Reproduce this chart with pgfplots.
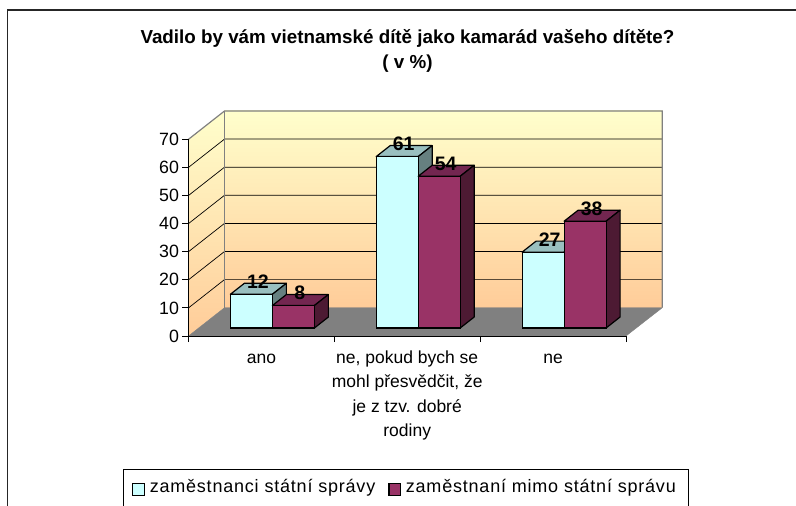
\documentclass[border=0pt]{standalone}
\usepackage{fontspec}
\setmainfont{Liberation Sans}
\newfontfamily\legfont[LetterSpace=4.4]{Liberation Sans}
\usepackage{pgfplots}
\pgfplotsset{compat=1.18}
\definecolor{cy}{HTML}{CCFFFF}
\definecolor{cyt}{HTML}{99BFBF}
\definecolor{cys}{HTML}{668080}
\definecolor{ma}{HTML}{993366}
\definecolor{mat}{HTML}{732650}
\definecolor{mas}{HTML}{4D1A33}
\definecolor{wallt}{HTML}{FFFFCC}
\definecolor{wallb}{HTML}{FFCC99}
\definecolor{flo}{HTML}{808080}
% one bar's top and side faces: category centre, series shift, value, colours
\newcommand\barfaces[5]{%
  \pgfmathsetmacro\xa{#1+#2}\pgfmathsetmacro\xb{\xa+42}%
  \pgfmathsetmacro\xc{\xa+14}\pgfmathsetmacro\xd{\xb+14}\pgfmathsetmacro\vt{#3+3.91}%
  \addplot[forget plot,xshift=11pt,yshift=8pt,fill=#4,draw=black,line width=1.2pt,line join=round]
    coordinates {(\xa,#3)(\xb,#3)(\xd,\vt)(\xc,\vt)} --cycle;
  \addplot[forget plot,xshift=11pt,yshift=8pt,fill=#5,draw=black,line width=1.2pt,line join=round]
    coordinates {(\xb,0)(\xb,#3)(\xd,\vt)(\xd,3.91)} --cycle;
}
\newcommand\legswatch[1]{%
  \path[draw=none,fill=none] (11.5pt,-10pt) -- (15pt,-10pt);
  \draw[fill=#1,draw=black,line width=1.2pt] (0pt,-16.5pt) rectangle (11.5pt,-4.5pt);
}
\begin{document}
\begin{tikzpicture}[x=1pt,y=1pt]
\clip (-188.5,-170) rectangle (607.5,336);
\fill[white] (-188.5,-170) rectangle (607.5,336);
\draw[black!85,line width=1.6pt] (-181,-171) -- (-181,326) -- (609,326);
\node[font=\bfseries\fontsize{18.8}{18.8}\selectfont,anchor=center] at (219,297.5) {Vadilo by vám vietnamské dítě jako kamarád vašeho dítěte?};
\node[font=\bfseries\fontsize{18.8}{18.8}\selectfont,anchor=center] at (219,272) {( v \%)};
\draw[black,line width=1pt] (-64.5,-171) -- (-64.5,-134) -- (499.5,-134) -- (499.5,-171);
\begin{axis}[
  scale only axis,width=473.8pt,height=225pt,
  xmin=188.5,xmax=662.3,ymin=0,ymax=80.07,
  clip=false,
  axis line style={draw=none},
  tick style={black,line width=0.8pt},
  major tick length=6pt,
  tick align=outside,
  xtick pos=bottom,ytick pos=left,
  xtick={188.5,334.3,480.2,626},
  xticklabels={},
  extra x ticks={261.4,407.2,553.1},
  extra x tick labels={\vphantom{d}ano,{ne, pokud bych se\\mohl přesvědčit, že\\je z tzv. dobré\\rodiny},\vphantom{d}ne},
  extra x tick style={major tick length=0pt,tick style={draw=none},
    x tick label style={align=center,font=\fontsize{17.5}{24.4}\selectfont,yshift=-11pt}},
  ytick={0,10,...,70},
  y tick label style={font=\fontsize{17.8}{17.8}\selectfont},
  /pgf/number format/assume math mode=true,
  legend style={at={(-64.5pt,-136.5pt)},anchor=north west,draw=none,fill=none,
    legend columns=2,font=\fontsize{18}{18}\selectfont\legfont,
    /tikz/every even column/.append style={column sep=11pt},inner xsep=8pt,inner ysep=5pt,
    legend cell align=left},
]
% walls
\addplot[forget plot,draw=none,top color=wallt,bottom color=wallb] coordinates {(224.5,10.07)(662.3,10.07)(662.3,80.07)(224.5,80.07)} --cycle;
\addplot[forget plot,draw=none,top color=wallt,bottom color=wallb] coordinates {(188.5,0)(224.5,10.07)(224.5,80.07)(188.5,70)} --cycle;
% grid
\addplot[forget plot,black,line width=0.7pt] coordinates {(188.5,10)(224.5,20.07)(662.3,20.07)};
\addplot[forget plot,black,line width=0.7pt] coordinates {(188.5,20)(224.5,30.07)(662.3,30.07)};
\addplot[forget plot,black,line width=0.7pt] coordinates {(188.5,30)(224.5,40.07)(662.3,40.07)};
\addplot[forget plot,black,line width=0.7pt] coordinates {(188.5,40)(224.5,50.07)(662.3,50.07)};
\addplot[forget plot,black,line width=0.7pt] coordinates {(188.5,50)(224.5,60.07)(662.3,60.07)};
\addplot[forget plot,black,line width=0.7pt] coordinates {(188.5,60)(224.5,70.07)(662.3,70.07)};
% wall border
\addplot[forget plot,flo,line width=1.2pt] coordinates {(188.5,70)(224.5,80.07)(662.3,80.07)(662.3,10.07)};
\addplot[forget plot,flo,line width=1.2pt] coordinates {(224.5,80.07)(224.5,10.07)};
% floor
\addplot[forget plot,fill=flo,draw=flo] coordinates {(188.5,0)(626,0)(662.3,10.07)(224.5,10.07)} --cycle;
% axis lines
\addplot[forget plot,black,line width=0.8pt] coordinates {(188.5,70)(188.5,0)(626,0)};
% series 1
\barfaces{261.4}{-42}{12}{cyt}{cys}
\barfaces{407.2}{-42}{61}{cyt}{cys}
\barfaces{553.1}{-42}{27}{cyt}{cys}
\addplot[ybar,bar width=42pt,bar shift=-21pt,xshift=11pt,yshift=8pt,fill=cy,draw=black,line width=1.2pt,
  legend image code/.code={\legswatch{cy}}]
  coordinates {(261.4,12)(407.2,61)(553.1,27)};
\addlegendentry{zaměstnanci státní správy}
% series 2
\barfaces{261.4}{0}{8}{mat}{mas}
\barfaces{407.2}{0}{54}{mat}{mas}
\barfaces{553.1}{0}{38}{mat}{mas}
\addplot[ybar,bar width=42pt,bar shift=21pt,xshift=11pt,yshift=8pt,fill=ma,draw=black,line width=1.2pt,
  legend image code/.code={\legswatch{ma}}]
  coordinates {(261.4,8)(407.2,54)(553.1,38)};
\addlegendentry{zaměstnaní mimo státní správu}
% value labels
\addplot[forget plot,draw=none,mark=none,xshift=-3.5pt,yshift=20.5pt,
  nodes near coords,nodes near coords style={anchor=center,inner sep=0pt,text=black,font=\bfseries\fontsize{19.5}{19.5}\selectfont}]
  coordinates {(261.4,12)(407.2,61)(553.1,27)};
\addplot[forget plot,draw=none,mark=none,xshift=38.5pt,yshift=20.5pt,
  nodes near coords,nodes near coords style={anchor=center,inner sep=0pt,text=black,font=\bfseries\fontsize{19.5}{19.5}\selectfont}]
  coordinates {(261.4,8)(407.2,54)(553.1,38)};
\end{axis}
\end{tikzpicture}
\end{document}
